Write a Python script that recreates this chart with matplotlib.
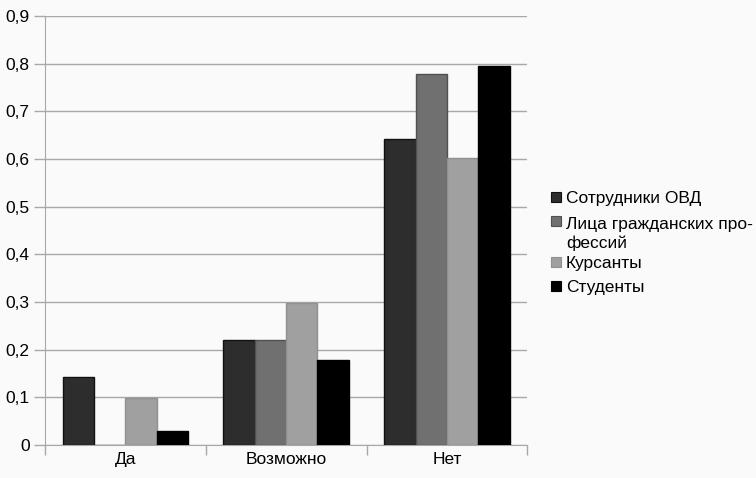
import matplotlib
matplotlib.use("Agg")
import matplotlib.pyplot as plt
import numpy as np
from matplotlib.patches import Rectangle

plt.rcParams['font.family'] = ['Liberation Sans', 'DejaVu Sans']

categories = ["Да", "Возможно", "Нет"]
series_names = ["Сотрудники ОВД", "Лица гражданских про-\nфессий", "Курсанты", "Студенты"]
sotrudniki = [0.142, 0.22, 0.641]
litsa = [0.0, 0.22, 0.778]
kursanty = [0.098, 0.298, 0.603]
studenty = [0.029, 0.179, 0.795]
yticks = [0, 0.1, 0.2, 0.3, 0.4, 0.5, 0.6, 0.7, 0.8, 0.9]
ytick_labels = ["0", "0,1", "0,2", "0,3", "0,4", "0,5", "0,6", "0,7", "0,8", "0,9"]

colors = ["#2d2d2d", "#707070", "#a0a0a0", "#000000"]
edges = ["#111111", "#505050", "#909090", "#000000"]

W, H = 756, 478
fig = plt.figure(figsize=(7.56, 4.78), dpi=100, facecolor="#fafafa")
ax = fig.add_axes([0.0595, 0.069, 0.638, 0.8975])
ax.set_facecolor("#fafafa")

data = [sotrudniki, litsa, kursanty, studenty]
x = np.arange(len(categories))
w = 0.195
for i, (vals, c, ec) in enumerate(zip(data, colors, edges)):
    ax.bar(x + (i - 1.5) * w, vals, width=w, color=c, edgecolor=ec, linewidth=1.0, zorder=3)

ax.set_xlim(-0.5, 2.5)
ax.set_ylim(0, 0.9)
ax.set_yticks(yticks)
ax.set_yticklabels(ytick_labels, fontsize=12.5)
ax.yaxis.grid(True, color="#a8a8a8", linewidth=1.0, zorder=0)
ax.set_xticks(x)
ax.set_xticklabels(categories, fontsize=12.5)
ax.tick_params(axis='x', length=0, pad=5)
ax.set_xticks([-0.5, 0.5, 1.5, 2.5], minor=True)
ax.tick_params(axis='x', which='minor', length=7, color="#a8a8a8", width=1.0)
ax.tick_params(axis='y', length=8, color="#a8a8a8", width=1.0, pad=3)
for s in ["top", "right"]:
    ax.spines[s].set_visible(False)
ax.spines["left"].set_color("#a8a8a8")
ax.spines["bottom"].set_color("#a8a8a8")

# legend drawn manually (pixel layout); baseline of the first and last text line
first_baselines = [203, 227, 268, 292]
last_baselines = [203, 248, 268, 292]
for name, c, ec, b0, b1 in zip(series_names, colors, edges, first_baselines, last_baselines):
    fig.patches.append(Rectangle((551 / W, 1 - (b0 - 1) / H), 10 / W, 10 / H,
                                 facecolor=c, edgecolor=ec, linewidth=0.8,
                                 transform=fig.transFigure, figure=fig))
    fig.text(566 / W, 1 - b1 / H, name, fontsize=12.5, va='baseline', ha='left',
             linespacing=1.28)

fig.savefig("out.png", dpi=100, facecolor=fig.get_facecolor())
